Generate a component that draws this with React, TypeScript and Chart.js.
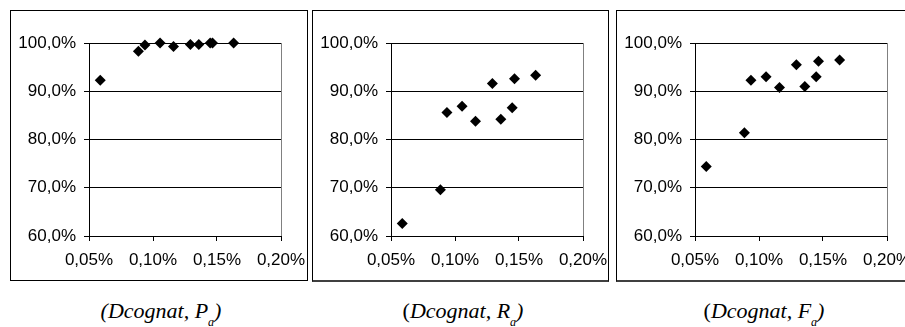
import React, { useEffect, useRef } from "react";
import { Chart, registerables } from "chart.js";
Chart.register(...registerables);

// Shared x values (Dcognat threshold, in %)
const xValues = [0.0588, 0.0886, 0.0937, 0.1055, 0.116, 0.1292, 0.1358, 0.1447, 0.1465, 0.163];
// Series values (in %)
const precisionPa = [92.3, 98.3, 99.6, 100.0, 99.3, 99.7, 99.7, 100.0, 100.0, 100.0];
const recallRa = [62.6, 69.6, 85.6, 86.9, 83.8, 91.6, 84.2, 86.6, 92.6, 93.3];
const fmeasureFa = [74.4, 81.4, 92.3, 93.0, 90.8, 95.5, 91.0, 93.0, 96.2, 96.5];
// Tick labels
const xTicks = [0.05, 0.1, 0.15, 0.2];
const yTicks = [60, 70, 80, 90, 100];
const captionLetters = ["P", "R", "F"];

const tickFont = { family: "'Liberation Sans', Arial, sans-serif", size: 17 };

const rightBorder = {
  id: "rightBorder",
  beforeDatasetsDraw(chart: any) {
    const { ctx, chartArea } = chart;
    ctx.save();
    ctx.strokeStyle = "#808080";
    ctx.lineWidth = 1;
    ctx.beginPath();
    const x = Math.round(chartArea.right) + 0.5;
    ctx.moveTo(x, chartArea.top);
    ctx.lineTo(x, chartArea.bottom);
    ctx.stroke();
    ctx.restore();
  },
};

function Panel({ values, left, width, height, thick }: any) {
  const ref = useRef<HTMLCanvasElement>(null);
  const cw = width - 2;
  const ch = height - (thick ? 3 : 2);
  useEffect(() => {
    const chart = new Chart(ref.current as HTMLCanvasElement, {
      type: "scatter",
      data: {
        datasets: [
          {
            data: xValues.map((x, i) => ({ x, y: values[i] })),
            pointStyle: "rectRot",
            pointRadius: 5.5,
            pointHoverRadius: 5.5,
            backgroundColor: "#000",
            borderColor: "#000",
            borderWidth: 0,
            clip: false,
          } as any,
        ],
      },
      options: {
        responsive: false,
        animation: false,
        devicePixelRatio: 1,
        events: [],
        layout: { padding: { top: 32, right: cw - 270, left: 0, bottom: 0 } },
        plugins: { legend: { display: false }, tooltip: { enabled: false } },
        scales: {
          x: {
            type: "linear",
            min: 0.05,
            max: 0.2,
            afterBuildTicks: (s: any) => {
              s.ticks = xTicks.map((v) => ({ value: v }));
            },
            afterFit: (s: any) => {
              s.height = ch - 225;
              s.paddingLeft = 0;
              s.paddingRight = 0;
            },
            grid: { drawOnChartArea: false, drawTicks: true, tickLength: 5, color: "#000" },
            border: { display: true, color: "#000" },
            ticks: {
              color: "#000",
              font: tickFont,
              padding: 9,
              maxRotation: 0,
              autoSkip: false,
              callback: (v: any) => Number(v).toFixed(2).replace(".", ",") + "%",
            },
          },
          y: {
            type: "linear",
            min: 60,
            max: 100,
            afterBuildTicks: (s: any) => {
              s.ticks = yTicks.map((v) => ({ value: v }));
            },
            afterFit: (s: any) => {
              s.width = 78;
              s.paddingTop = 0;
              s.paddingBottom = 0;
            },
            grid: { drawOnChartArea: true, drawTicks: true, tickLength: 5, color: "#000" },
            border: { display: true, color: "#000" },
            ticks: {
              color: "#000",
              font: tickFont,
              padding: 8,
              autoSkip: false,
              callback: (v: any) => Number(v).toFixed(1).replace(".", ",") + "%",
            },
          },
        },
      },
      plugins: [rightBorder],
    });
    return () => chart.destroy();
  }, []);
  return (
    <div
      style={{
        position: "absolute",
        left,
        top: 10,
        width,
        height,
        boxSizing: "border-box",
        border: "1px solid #000",
        borderBottom: thick ? "2px solid #404040" : "1px solid #000",
        background: "#fff",
      }}
    >
      <canvas ref={ref} width={cw} height={ch} style={{ display: "block", width: cw, height: ch }} />
    </div>
  );
}

function Caption({ cx, letter, italicParen }: any) {
  return (
    <div
      style={{
        position: "absolute",
        left: cx,
        top: 299,
        transform: "translateX(-50%)",
        whiteSpace: "nowrap",
        fontFamily: "'Liberation Serif', 'Times New Roman', serif",
        fontSize: 22,
        fontStyle: "italic",
        lineHeight: "24px",
        color: "#000",
      }}
    >
      <span style={{ fontStyle: italicParen ? "italic" : "normal" }}>(</span>
      Dcognat, {letter}
      <span style={{ fontSize: 12, position: "relative", top: 8 }}>a</span>)
    </div>
  );
}

export default function App() {
  return (
    <div
      style={{
        position: "fixed",
        left: 0,
        top: 0,
        width: 905,
        height: 327,
        overflow: "hidden",
        background: "#fff",
      }}
    >
      <Panel values={precisionPa} left={10} width={298} height={271} thick={false} />
      <Panel values={recallRa} left={312} width={297} height={272} thick={true} />
      <Panel values={fmeasureFa} left={616} width={298} height={272} thick={true} />
      <Caption cx={161} letter={captionLetters[0]} italicParen={true} />
      <Caption cx={463} letter={captionLetters[1]} italicParen={false} />
      <Caption cx={764} letter={captionLetters[2]} italicParen={false} />
    </div>
  );
}
